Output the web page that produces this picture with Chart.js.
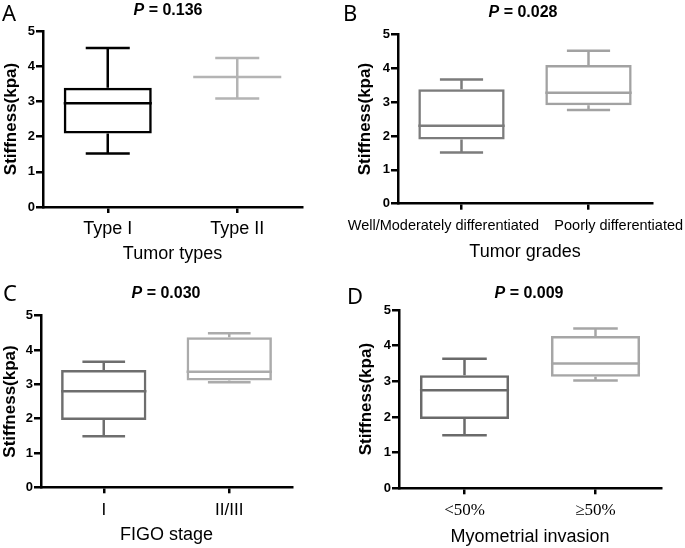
<!DOCTYPE html>
<html>
<head>
<meta charset="utf-8">
<script src="https://cdn.jsdelivr.net/npm/chart.js@4.4.0/dist/chart.umd.min.js"></script>
<style>
  html, body { margin: 0; padding: 0; background: #fff; }
  #fig { position: relative; width: 685px; height: 548px; overflow: hidden; font-family: "Liberation Sans", Arial, sans-serif; }
  canvas { position: absolute; }
  .letter { position: absolute; font-family: "Noto Sans", sans-serif; font-size: 22px; line-height: 22px; color: #000; }
  .ptitle { position: absolute; font-weight: bold; font-size: 16px; line-height: 16px; white-space: nowrap; transform: translateX(-50%); color: #000; }
</style>
</head>
<body>
<div id="fig"></div>
<script>
// values: [min, q1, median, q3, max]
var tumorTypes = ['Type I', 'Type II'];
var tumorTypeStats = [[1.52, 2.09, 2.95, 3.39, 4.52], [3.08, 3.69, 3.69, 3.69, 4.23]];
var tumorGrades = ['Well/Moderately differentiated', 'Poorly differentiated'];
var tumorGradeStats = [[1.51, 1.90, 2.30, 3.38, 3.67], [2.77, 2.91, 3.28, 4.10, 4.52]];
var figoStages = ['I', 'II/III'];
var figoStageStats = [[1.49, 1.96, 2.80, 3.42, 3.66], [3.06, 3.11, 3.37, 4.37, 4.49]];
var invasion = ['<50%', '\u226550%'];
var invasionStats = [[1.49, 1.94, 2.75, 3.17, 3.63], [3.02, 3.13, 3.50, 4.27, 4.48]];
var pValues = ['0.136', '0.028', '0.030', '0.009'];
var panelLetters = ['A', 'B', 'C', 'D'];
var yTicks = [0, 1, 2, 3, 4, 5];

var panels = [
  { labels: tumorTypes, stats: tumorTypeStats, xTitle: 'Tumor types', colors: ['#000000', '#b4b4b4'],
    box: {x: 0, y: 0, w: 342, h: 272}, area: {l: 43, r: 302, t: 31, b: 207},
    yTitleX: 11, xTitleY: 253.8, xFont: {family: 'Liberation Sans', size: 18}, xPad: 5, shift: [0, 0],
    letter: {x: 2, base: 20.7}, title: {x: 168, base: 15} },
  { labels: tumorGrades, stats: tumorGradeStats, xTitle: 'Tumor grades', colors: ['#7c7c7c', '#a2a2a2'],
    box: {x: 342, y: 0, w: 343, h: 272}, area: {l: 398, r: 652, t: 34.5, b: 203.7},
    yTitleX: 365.5, xTitleY: 252, xFont: {family: 'Liberation Sans', size: 14.5}, xPad: 8, shift: [-19, 31],
    letter: {x: 343, base: 20}, title: {x: 523, base: 17} },
  { labels: figoStages, stats: figoStageStats, xTitle: 'FIGO stage', colors: ['#6e6e6e', '#ababab'],
    box: {x: 0, y: 274, w: 342, h: 274}, area: {l: 41, r: 292, t: 315.7, b: 487.3},
    yTitleX: 10.8, xTitleY: 535.5, xFont: {family: 'Liberation Sans', size: 17}, xPad: 7, shift: [0, 0],
    letter: {x: 3, base: 300}, title: {x: 166, base: 298} },
  { labels: invasion, stats: invasionStats, xTitle: 'Myometrial invasion', colors: ['#6a6a6a', '#a6a6a6'],
    box: {x: 342, y: 274, w: 343, h: 274}, area: {l: 399, r: 661, t: 310, b: 488.3},
    yTitleX: 366.5, xTitleY: 537.8, xFont: {family: 'Liberation Serif', size: 17}, xPad: 6.5, shift: [0, 0],
    letter: {x: 347, base: 303}, title: {x: 529, base: 298} }
];

// whiskers and median drawn on top of the floating bars
var boxWhiskers = {
  id: 'boxWhiskers',
  afterDatasetsDraw: function (chart) {
    var ctx = chart.ctx;
    var y = chart.scales.y;
    var ds = chart.data.datasets[0];
    chart.getDatasetMeta(0).data.forEach(function (bar, i) {
      var s = ds.stats[i];
      var half = bar.width / 2;
      var yMin = y.getPixelForValue(s[0]), yQ1 = y.getPixelForValue(s[1]);
      var yMed = y.getPixelForValue(s[2]), yQ3 = y.getPixelForValue(s[3]);
      var yMax = y.getPixelForValue(s[4]);
      ctx.save();
      ctx.strokeStyle = ds.borderColor[i];
      ctx.lineWidth = 2.5;
      ctx.beginPath();
      ctx.moveTo(bar.x - half, yMed); ctx.lineTo(bar.x + half, yMed);
      ctx.moveTo(bar.x, yQ3); ctx.lineTo(bar.x, yMax);
      ctx.moveTo(bar.x - half / 2, yMax); ctx.lineTo(bar.x + half / 2, yMax);
      ctx.moveTo(bar.x, yQ1); ctx.lineTo(bar.x, yMin);
      ctx.moveTo(bar.x - half / 2, yMin); ctx.lineTo(bar.x + half / 2, yMin);
      ctx.stroke();
      ctx.restore();
    });
  }
};

function pad(text, shift, size) {
  // move a centred label sideways with spaces (space ~ 0.278em)
  var n = Math.round(Math.abs(shift) * 2 / (0.278 * size));
  var sp = new Array(n + 1).join(' ');
  return shift < 0 ? text + sp : sp + text;
}

var fig = document.getElementById('fig');

panels.forEach(function (p, k) {
  var cv = document.createElement('canvas');
  cv.width = p.box.w; cv.height = p.box.h;
  cv.style.left = p.box.x + 'px'; cv.style.top = p.box.y + 'px';
  fig.appendChild(cv);

  var letter = document.createElement('div');
  letter.className = 'letter';
  letter.textContent = panelLetters[k];
  letter.style.left = p.letter.x + 'px';
  letter.style.top = (p.letter.base - 19.5) + 'px';
  fig.appendChild(letter);

  var t = document.createElement('div');
  t.className = 'ptitle';
  t.innerHTML = '<i>P</i> = ' + pValues[k];
  t.style.left = p.title.x + 'px';
  t.style.top = (p.title.base - 13.5) + 'px';
  fig.appendChild(t);

  var xTitleSize = 18;
  var yTitleSize = 17;
  new Chart(cv.getContext('2d'), {
    type: 'bar',
    data: {
      labels: p.labels,
      datasets: [{
        data: p.stats.map(function (s) { return [s[1], s[3]]; }),
        stats: p.stats,
        borderColor: p.colors,
        backgroundColor: 'rgba(0,0,0,0)',
        borderWidth: 2.5,
        borderSkipped: false,
        barPercentage: 0.68,
        categoryPercentage: 1
      }]
    },
    options: {
      responsive: false,
      animation: false,
      layout: {
        padding: {left: 0, bottom: 0, top: p.area.t - p.box.y, right: p.box.x + p.box.w - p.area.r}
      },
      plugins: { legend: {display: false}, tooltip: {enabled: false} },
      scales: {
        x: {
          offset: true,
          grid: {display: true, drawOnChartArea: false, offset: false, color: '#000', lineWidth: 2.5, tickLength: 6},
          border: {display: true, color: '#000', width: 2.5},
          ticks: {
            color: '#000', font: p.xFont, padding: p.xPad, maxRotation: 0, minRotation: 0, autoSkip: false,
            callback: function (v, i) { return pad(p.labels[i], p.shift[i], p.xFont.size); }
          },
          title: {
            display: true, text: p.xTitle, color: '#000',
            font: {family: 'Liberation Sans', size: xTitleSize},
            padding: {top: 0, bottom: Math.max(0, p.box.y + p.box.h - p.xTitleY - xTitleSize * 0.6)}
          },
          afterFit: function (s) { s.height = p.box.y + p.box.h - p.area.b; s.paddingLeft = 0; s.paddingRight = 0; }
        },
        y: {
          min: 0, max: 5,
          afterBuildTicks: function (s) { s.ticks = yTicks.map(function (v) { return {value: v}; }); },
          grid: {display: true, drawOnChartArea: false, color: '#000', lineWidth: 2.5, tickLength: 7},
          border: {display: true, color: '#000', width: 2.5},
          ticks: {color: '#000', font: {family: 'Liberation Sans', size: 13, weight: 'bold'}, padding: 1},
          title: {
            display: true, text: 'Stiffness(kpa)', color: '#000',
            font: {family: 'Liberation Sans', size: yTitleSize, weight: 'bold'},
            padding: {top: Math.max(0, p.yTitleX - p.box.x - yTitleSize * 0.6), bottom: 0}
          },
          afterFit: function (s) { s.width = p.area.l - p.box.x; s.paddingTop = 0; s.paddingBottom = 0; }
        }
      }
    },
    plugins: [boxWhiskers]
  });
});
</script>
</body>
</html>
